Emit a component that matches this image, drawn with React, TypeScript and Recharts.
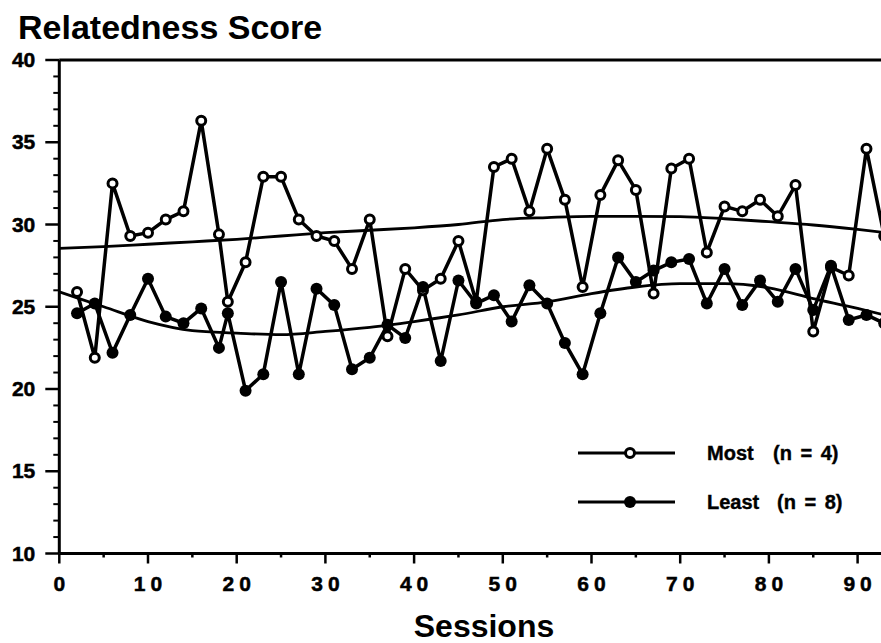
import { LineChart, Line, XAxis, YAxis, ReferenceLine } from 'recharts';

// sessions at which scores were plotted
const sessions = [
  2, 4, 6, 8, 10, 12, 14, 16, 18, 19, 21, 23, 25, 27, 29, 31, 33, 35, 37, 39, 41, 43, 45, 47,
  49, 51, 53, 55, 57, 59, 61, 63, 65, 67, 69, 71, 73, 75, 77, 79, 81, 83, 85, 87, 89, 91, 93,
];
const mostScores = [
  25.9, 21.9, 32.5, 29.3, 29.5, 30.3, 30.8, 36.3, 29.4, 25.3, 27.7, 32.9, 32.9, 30.3, 29.3, 29.0,
  27.3, 30.3, 23.2, 27.3, 26.0, 26.7, 29.0, 25.3, 33.5, 34.0, 30.8, 34.6, 31.5, 26.2, 31.8, 33.9,
  32.1, 25.8, 33.4, 34.0, 28.3, 31.1, 30.8, 31.5, 30.5, 32.4, 23.5, 27.4, 26.9, 34.6, 29.3,
];
const leastScores = [
  24.6, 25.2, 22.2, 24.5, 26.7, 24.4, 24.0, 24.9, 22.5, 24.6, 19.9, 20.9, 26.5, 20.9, 26.1, 25.1,
  21.2, 21.9, 23.9, 23.1, 26.2, 21.7, 26.6, 25.2, 25.7, 24.1, 26.3, 25.2, 22.8, 20.9, 24.6, 28.0,
  26.5, 27.2, 27.7, 27.9, 25.2, 27.3, 25.1, 26.6, 25.3, 27.3, 24.8, 27.5, 24.2, 24.5, 24.0,
];

// smoothed trend curves
const trendSessions = [0, 5, 10, 15, 20, 25, 30, 35, 40, 45, 50, 55, 60, 65, 70, 75, 80, 85, 90, 93];
const mostTrend = [
  28.55, 28.65, 28.8, 28.95, 29.1, 29.3, 29.5, 29.65, 29.8, 30.0, 30.3, 30.42, 30.5, 30.5, 30.48,
  30.35, 30.17, 29.97, 29.7, 29.52,
];
const leastTrend = [
  25.9, 25.0, 24.1, 23.55, 23.4, 23.3, 23.5, 23.75, 24.1, 24.5, 25.0, 25.3, 25.8, 26.2, 26.4, 26.4,
  26.15, 25.5, 24.9, 24.5,
];

const groups = [
  { key: 'most', label: 'Most', count: '(n = 4)', open: true },
  { key: 'least', label: 'Least', count: '(n = 8)', open: false },
];

const xTicks = [0, 5, 10, 15, 20, 25, 30, 35, 40, 45, 50, 55, 60, 65, 70, 75, 80, 85, 90, 95, 100];
const yTicks = Array.from({ length: 31 }, (_, i) => 10 + i);

const scoreData = sessions.map((s, i) => ({ session: s, most: mostScores[i], least: leastScores[i] }));
const mostTrendData = trendSessions.map((s, i) => ({ session: s, trend: mostTrend[i] }));
const leastTrendData = trendSessions.map((s, i) => ({ session: s, trend: leastTrend[i] }));

const FONT = '"Liberation Sans", Arial, Helvetica, sans-serif';

const YTick = (props: any) => {
  const { x, y, payload } = props;
  const major = payload.value % 5 === 0;
  return (
    <g>
      <line x1={x} x2={x - (major ? 14 : 6)} y1={y} y2={y} stroke="#000" strokeWidth={major ? 2.5 : 2} />
      {major && (
        <text x={x - 24} y={y} dy={7} textAnchor="end" fontFamily={FONT} fontWeight="bold" fontSize={21}
          fill="#000" stroke="#000" strokeWidth={0.5}>
          {payload.value}
        </text>
      )}
    </g>
  );
};

const XTick = (props: any) => {
  const { x, y, payload } = props;
  const major = payload.value % 10 === 0;
  return (
    <g>
      <line x1={x} x2={x} y1={y} y2={y + (major ? 10 : 4)} stroke="#000" strokeWidth={2.5} />
      {major && payload.value <= 90 && (
        <text x={x + 2.5} y={y + 37} textAnchor="middle" fontFamily={FONT} fontWeight="bold" fontSize={21}
          letterSpacing={5} fill="#000" stroke="#000" strokeWidth={0.5}>
          {payload.value}
        </text>
      )}
    </g>
  );
};

function LegendBox() {
  return (
    <svg width={300} height={100} style={{ position: 'absolute', left: 570, top: 425 }}>
      {groups.map((g, i) => {
        const cy = 28 + i * 49;
        return (
          <g key={g.key}>
            <line x1={8} x2={105} y1={cy} y2={cy} stroke="#000" strokeWidth={3} />
            {g.open ? (
              <circle cx={60} cy={cy} r={4.5} fill="#fff" stroke="#000" strokeWidth={3} />
            ) : (
              <circle cx={60} cy={cy} r={6} fill="#000" />
            )}
            <text x={137} y={cy + 7} fontFamily={FONT} fontWeight="bold" fontSize={20} fill="#000" stroke="#000" strokeWidth={0.4}>
              {g.label}
            </text>
            <text x={g.open ? 203 : 207} y={cy + 7} fontFamily={FONT} fontWeight="bold" fontSize={20} wordSpacing={3}
              fill="#000" stroke="#000" strokeWidth={0.4}>
              {g.count}
            </text>
          </g>
        );
      })}
    </svg>
  );
}

export default function App() {
  return (
    <div style={{ position: 'absolute', left: 0, top: 0, width: 881, height: 643, overflow: 'hidden', background: '#fff' }}>
      <div
        style={{
          position: 'absolute', left: 18, top: 10, fontFamily: FONT, fontWeight: 'bold',
          fontSize: 34, lineHeight: '34px', color: '#000', whiteSpace: 'nowrap',
        }}
      >
        Relatedness Score
      </div>
      <div
        style={{
          position: 'absolute', left: 384, width: 200, top: 610, textAlign: 'center', fontFamily: FONT,
          fontWeight: 'bold', fontSize: 32, lineHeight: '32px', color: '#000',
        }}
      >
        Sessions
      </div>
      <LineChart
        width={1000}
        height={643}
        data={scoreData}
        margin={{ top: 60, right: 53.7, bottom: 49.5, left: 0 }}
        style={{ position: 'absolute', left: 0, top: 0 }}
      >
        <XAxis
          dataKey="session"
          type="number"
          domain={[0, 100]}
          ticks={xTicks}
          interval={0}
          height={40}
          tickSize={0}
          tickMargin={0}
          tickLine={false}
          axisLine={{ stroke: '#000', strokeWidth: 3 }}
          tick={<XTick />}
          allowDataOverflow
        />
        <YAxis
          type="number"
          domain={[10, 40]}
          ticks={yTicks}
          interval={0}
          width={59.3}
          tickSize={0}
          tickMargin={0}
          tickLine={false}
          axisLine={{ stroke: '#000', strokeWidth: 3 }}
          tick={<YTick />}
        />
        <ReferenceLine y={40} stroke="#000" strokeWidth={3} />
        <Line
          data={mostTrendData}
          dataKey="trend"
          type="monotone"
          stroke="#000"
          strokeWidth={2.8}
          dot={false}
          isAnimationActive={false}
        />
        <Line
          data={leastTrendData}
          dataKey="trend"
          type="monotone"
          stroke="#000"
          strokeWidth={2.8}
          dot={false}
          isAnimationActive={false}
        />
        <Line
          dataKey="most"
          type="linear"
          stroke="#000"
          strokeWidth={3.5}
          dot={{ r: 4.5, fill: '#fff', stroke: '#000', strokeWidth: 3 }}
          isAnimationActive={false}
        />
        <Line
          dataKey="least"
          type="linear"
          stroke="#000"
          strokeWidth={3.5}
          dot={{ r: 6, fill: '#000', stroke: 'none' }}
          isAnimationActive={false}
        />
      </LineChart>
      <LegendBox />
    </div>
  );
}
